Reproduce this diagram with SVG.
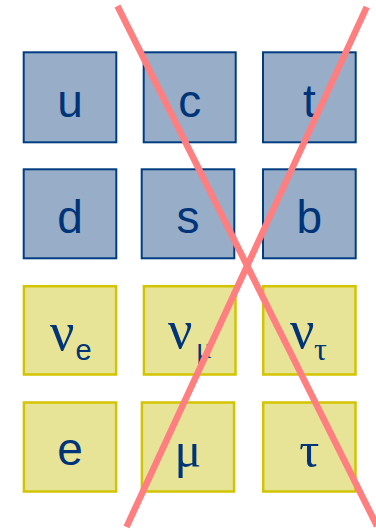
<svg xmlns="http://www.w3.org/2000/svg" width="376" height="531" viewBox="0 0 376 531">
<style>
.q{fill:#97adc8;stroke:#003c80;stroke-width:2}
.l{fill:#e8e497;stroke:#d2c400;stroke-width:2.5}
.t{font-family:"Liberation Sans",Arial,sans-serif;font-size:46px;fill:#003478;text-anchor:middle}
.g{font-family:"Liberation Serif","Times New Roman",serif;fill:#003478}
.x{stroke:#ff7f80;stroke-width:6.5;fill:none}
</style>
<rect width="376" height="531" fill="#fff"/>
<g id="u"><rect class="q" x="23.7" y="52.3" width="92.6" height="90"/><text class="t" x="70" y="116.7">u</text></g>
<g id="c"><rect class="q" x="143.7" y="52.3" width="92" height="90"/><text class="t" x="189.7" y="116.7">c</text></g>
<g id="t"><rect class="q" x="263" y="52.3" width="92.7" height="90"/><text class="t" x="309.3" y="116.7">t</text></g>
<g id="d"><rect class="q" x="23.7" y="169.3" width="92.6" height="89"/><text class="t" x="70" y="232.7">d</text></g>
<g id="s"><rect class="q" x="141.7" y="169.3" width="92.6" height="89"/><text class="t" x="188" y="232.7">s</text></g>
<g id="b"><rect class="q" x="263" y="169.3" width="92.7" height="89"/><text class="t" x="309.3" y="232.7">b</text></g>
<g id="nue"><rect class="l" x="23.9" y="286.2" width="92.2" height="88.3"/><text class="g" x="50" y="349.5" font-size="54">ν<tspan font-family="Liberation Sans,Arial,sans-serif" font-size="29" x="75.5" y="360.3">e</tspan></text></g>
<g id="numu"><rect class="l" x="143.9" y="286.2" width="91.6" height="88.3"/><text class="g" x="168" y="348" font-size="54">ν<tspan font-size="30" x="196" y="358">μ</tspan></text></g>
<g id="nutau"><rect class="l" x="263.2" y="286.2" width="92.3" height="88.3"/><text class="g" x="290" y="348" font-size="54">ν<tspan font-size="32" x="314" y="360.3">τ</tspan></text></g>
<g id="e"><rect class="l" x="23.9" y="402.5" width="92.2" height="89"/><text class="t" x="70" y="465">e</text></g>
<g id="mu"><rect class="l" x="141.9" y="402.5" width="92.2" height="89"/><text class="g" x="188" y="466.7" font-size="50" text-anchor="middle">μ</text></g>
<g id="tau"><rect class="l" x="263.2" y="402.5" width="92.3" height="89"/><text class="g" x="309.3" y="466.7" font-size="50" text-anchor="middle">τ</text></g>
<g id="connectors">
<line class="x" x1="117.5" y1="6" x2="377" y2="526"/>
<line class="x" x1="366.7" y1="7" x2="126.5" y2="527"/>
</g>
</svg>
